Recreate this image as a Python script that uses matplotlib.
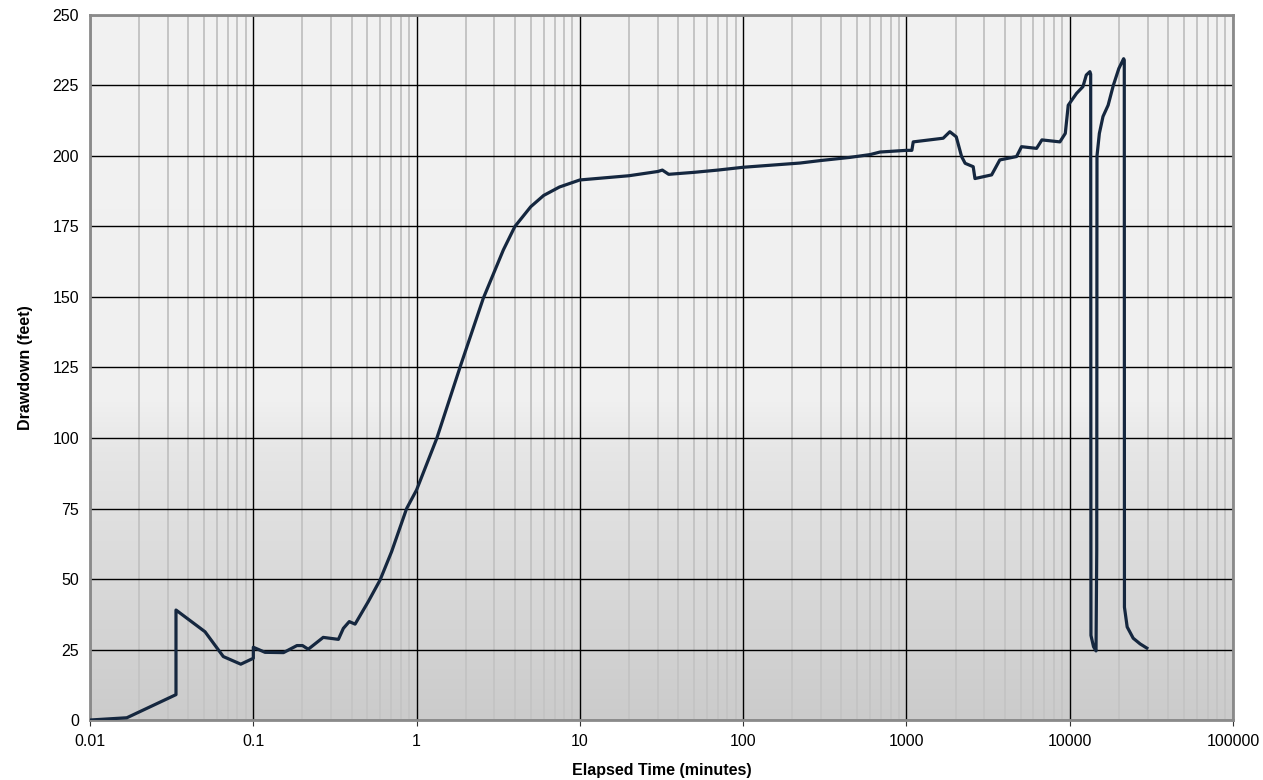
import matplotlib
matplotlib.use("Agg")
import matplotlib.pyplot as plt
import numpy as np
from matplotlib.colors import LinearSegmentedColormap
from matplotlib.ticker import LogLocator, FixedLocator, FixedFormatter, NullFormatter

# Elapsed time (minutes) and drawdown (feet)
elapsed_min = [
    0.01, 0.0168, 0.0336, 0.0336, 0.0506, 0.0655, 0.0838, 0.1, 0.1, 0.118,
    0.153, 0.185, 0.200, 0.217, 0.268, 0.332, 0.356, 0.387, 0.42, 0.506,
    0.597, 0.703, 0.869, 1.0, 1.33, 1.85, 2.56, 3.4, 4.0, 5.0,
    6.0, 7.5, 10, 20, 30, 32, 35, 50, 70, 100,
    223, 300, 451, 600, 689, 1000, 1080, 1101, 1680, 1845,
    2020, 2178, 2290, 2565, 2630, 3327, 3733, 4727, 5071, 6270,
    6760, 8710, 9400, 9800, 11020, 12060, 12640, 13300, 13450, 13500,
    14000, 14500, 14650, 14700, 15200, 16000, 17200, 18500, 20000, 21400,
    21600, 21650, 22500, 24500, 27000, 29700,
]
drawdown_ft = [
    0, 0.8, 9, 39, 31.3, 22.5, 19.8, 21.9, 25.8, 24.0,
    23.9, 26.4, 26.4, 25.1, 29.3, 28.6, 32.5, 34.9, 34.0, 42,
    49.6, 59.7, 75, 81.6, 99.9, 125.3, 149.5, 166.7, 175, 182,
    186, 189, 191.5, 193, 194.5, 195, 193.5, 194.2, 195, 196,
    197.5, 198.4, 199.5, 200.5, 201.4, 202, 202, 205, 206.3, 208.6,
    206.8, 199.8, 197.4, 196.2, 192, 193.3, 198.6, 199.8, 203.3, 202.7,
    205.7, 205, 208, 218, 222.2, 224.6, 228.7, 229.9, 229, 30,
    26, 24.5, 60, 200, 208, 214, 218, 225, 231, 234.5,
    234, 40, 33, 29, 27, 25.5,
]

x_ticks = [0.01, 0.1, 1, 10, 100, 1000, 10000, 100000]
x_tick_labels = ["0.01", "0.1", "1", "10", "100", "1000", "10000", "100000"]
y_ticks = [0, 25, 50, 75, 100, 125, 150, 175, 200, 225, 250]

plt.rcParams["font.family"] = ["Liberation Sans", "DejaVu Sans"]

fig = plt.figure(figsize=(12.63, 7.80), dpi=100)
ax = fig.add_axes([0.0713, 0.0769, 0.9049, 0.9039])

# background: flat light grey on top, darkening toward the bottom
grad_cmap = LinearSegmentedColormap.from_list(
    "bg", [(0.0, "#cbcbcb"), (0.38, "#e6e6e6"), (0.45, "#f0f0f0"), (1.0, "#f2f2f2")]
)
grad = np.linspace(0, 1, 256).reshape(-1, 1)
ax.imshow(grad, cmap=grad_cmap, aspect="auto", origin="lower",
          extent=[0, 1, 0, 1], transform=ax.transAxes, zorder=0)

ax.set_xscale("log")
ax.set_xlim(0.01, 100000)
ax.set_ylim(0, 250)

ax.xaxis.set_major_locator(FixedLocator(x_ticks))
ax.xaxis.set_major_formatter(FixedFormatter(x_tick_labels))
ax.xaxis.set_minor_locator(LogLocator(base=10, subs=np.arange(2, 10), numticks=20))
ax.xaxis.set_minor_formatter(NullFormatter())
ax.yaxis.set_major_locator(FixedLocator(y_ticks))

ax.grid(which="minor", axis="x", color="#c4c4c4", linewidth=1.4, zorder=1)
ax.grid(which="major", axis="both", color="black", linewidth=1.0, zorder=2)
ax.set_axisbelow(True)

ax.plot(elapsed_min, drawdown_ft, color="#15273f", linewidth=2.3,
        solid_joinstyle="round", zorder=3)

for s in ax.spines.values():
    s.set_color("#8a8a8a")
    s.set_linewidth(2)

ax.tick_params(axis="x", which="major", direction="out", length=4,
               color="#333333", labelsize=11.5, pad=6)
ax.tick_params(axis="x", which="minor", length=0)
ax.tick_params(axis="y", which="major", length=0, labelsize=11.5, pad=8)

ax.set_xlabel("Elapsed Time (minutes)", fontsize=11.5, fontweight="bold", labelpad=10)
ax.set_ylabel("Drawdown (feet)", fontsize=11.5, fontweight="bold", labelpad=14)

fig.savefig("out.png", dpi=100)
